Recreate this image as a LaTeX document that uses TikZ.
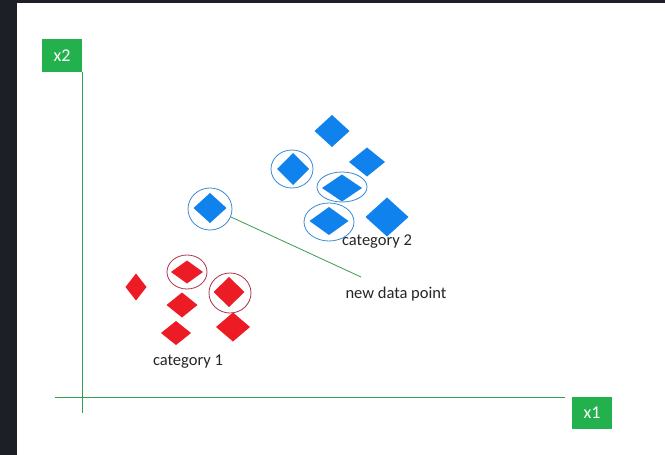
\documentclass[tikz,border=0pt]{standalone}
\usepackage{fontspec}
\setmainfont{Carlito}
\definecolor{darkbg}{HTML}{1C1F26}
\definecolor{axisgreen}{HTML}{22B14C}
\definecolor{axisline}{HTML}{2FA150}
\definecolor{catred}{HTML}{ED1C24}
\definecolor{catblue}{HTML}{0F82EE}
\definecolor{ringred}{HTML}{B0304A}
\definecolor{ringblue}{HTML}{3A8AD6}
\definecolor{linkgreen}{HTML}{3A9A50}
\newcommand\dmd[5]{\fill[#5] (#1,#2) +(-#3/2,0) -- +(0,-#4/2) -- +(#3/2,0) -- +(0,#4/2) -- cycle;}
\begin{document}
\begin{tikzpicture}[x=1pt,y=-1pt,
  axislbl/.style={fill=axisgreen,text=white,inner sep=0pt,minimum width=40pt,minimum height=33pt,font=\fontsize{18}{20}\selectfont},
  axisln/.style={draw=axisline,line width=1pt},
  redring/.style={draw=ringred,line width=0.8pt},
  bluering/.style={draw=ringblue,line width=0.8pt},
  catlbl/.style={text=black!85,inner sep=0pt,font=\fontsize{16.5}{19}\selectfont}]
\useasboundingbox (0,0) rectangle (665,455);
\fill[white] (0,0) rectangle (665,455);
\fill[darkbg] (0,0) rectangle (17,455);
\fill[darkbg] (0,0) rectangle (665,2.5);
% axes
\node[axislbl] (x2) at (62,55.5) {x2};
\node[axislbl,minimum height=32pt] (x1) at (592,413) {x1};
\coordinate (vtop) at (82.3,72);
\coordinate (vbot) at (82.3,413);
\coordinate (hl) at (55,397.5);
\coordinate (hr) at (565,397.5);
\draw[axisln] (vtop) -- (vbot);
\draw[axisln] (hl) -- (hr);
% category 1 (red)
\dmd{136}{287}{21}{27}{catred}
\dmd{187}{272}{32}{23}{catred}
\dmd{182}{305}{31}{25}{catred}
\dmd{229}{292}{31}{30}{catred}
\dmd{176}{333}{30}{24}{catred}
\dmd{233}{327}{34}{29}{catred}
\draw[redring] (187,272) ellipse [x radius=20, y radius=17];
\draw[redring] (230,293) ellipse [x radius=21, y radius=20];
\node[catlbl] (c1) at (188,362) {category 1};
% category 2 (blue)
\dmd{332}{131}{35}{32}{catblue}
\dmd{367}{162}{36}{29}{catblue}
\dmd{293}{169}{32}{32}{catblue}
\dmd{342}{188}{40}{27}{catblue}
\dmd{329}{221}{39}{28}{catblue}
\dmd{387}{217}{43}{39}{catblue}
\draw[bluering] (292,169) ellipse [x radius=21, y radius=19];
\draw[bluering] (342,187) ellipse [x radius=25, y radius=15];
\draw[bluering] (329,222) ellipse [x radius=25, y radius=19];
\node[catlbl] (c2) at (377,242) {category 2};
% new data point
\dmd{210}{208}{33}{30}{catblue}
\draw[bluering] (210,209) ellipse [x radius=22, y radius=21];
\coordinate (nstart) at (231,217);
\coordinate (nend) at (361,277);
\draw[linkgreen,line width=0.8pt] (nstart) -- (nend);
\node[catlbl] (ndp) at (396,294) {new data point};
\end{tikzpicture}
\end{document}
